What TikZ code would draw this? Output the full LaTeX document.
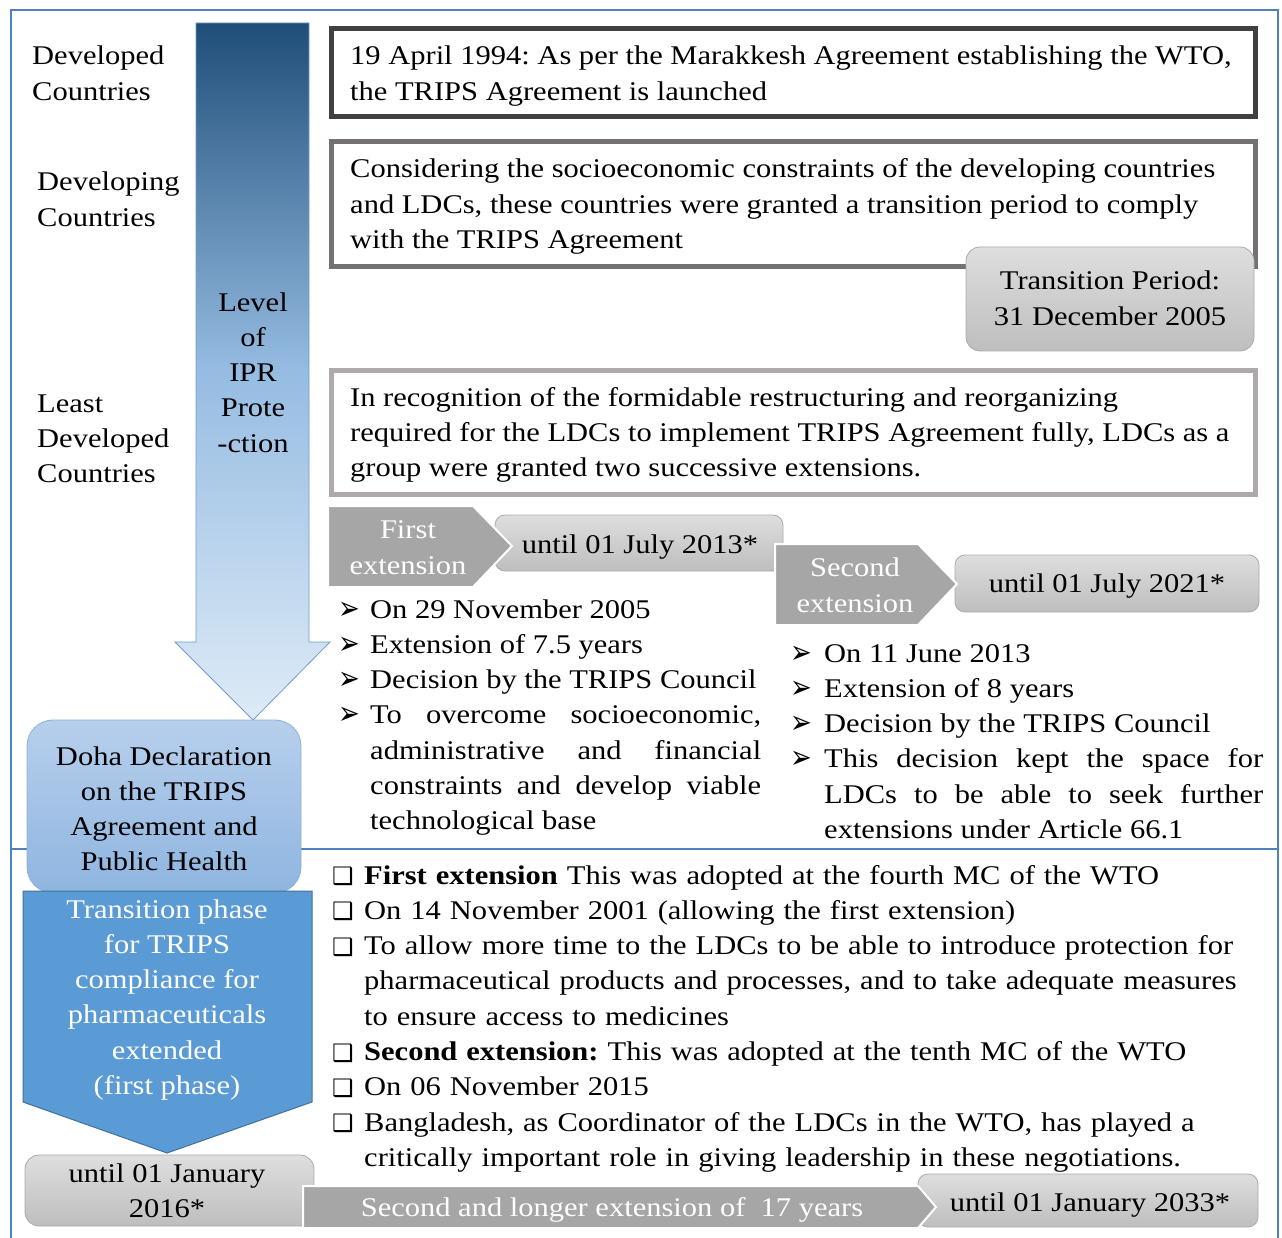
\documentclass[tikz,border=0pt]{standalone}
\usepackage{fontspec}
\setmainfont{Liberation Serif}[FakeStretch=1.13]
\newfontfamily\symfont{DejaVu Sans}
\frenchspacing

\definecolor{frameblue}{RGB}{79,129,189}
\definecolor{arrtop}{RGB}{31,78,121}
\definecolor{arrmid}{RGB}{150,188,226}
\definecolor{arrbot}{RGB}{222,235,247}
\definecolor{dohatop}{RGB}{183,207,236}
\definecolor{dohabot}{RGB}{143,181,224}
\definecolor{dohaline}{RGB}{140,176,218}
\definecolor{phasefill}{RGB}{91,155,213}
\definecolor{phaseline}{RGB}{65,113,156}
\definecolor{chevgray}{RGB}{166,166,166}
\definecolor{boxtop}{RGB}{222,222,222}
\definecolor{boxbot}{RGB}{190,190,190}
\definecolor{boxline}{RGB}{170,170,170}
\definecolor{edgeA}{RGB}{64,64,64}
\definecolor{edgeB}{RGB}{118,113,113}
\definecolor{edgeC}{RGB}{174,170,170}

% protection level shading: dark at the top, light at the bottom
\pgfdeclareverticalshading{levelshade}{100bp}{color(0bp)=(arrbot); color(25bp)=(arrbot);
  color(50bp)=(arrmid); color(75bp)=(arrtop); color(100bp)=(arrtop)}

\newcommand{\bigfont}{\fontsize{27}{35.3}\selectfont}
\newlength{\bulw}
\newcommand{\arrbul}{\makebox[\bulw][l]{\raisebox{-1pt}{\scalebox{1}[1.25]{\symfont\fontsize{26}{26}\selectfont ➢}}}}
\newcommand{\sqbul}{\makebox[\bulw][l]{\raisebox{-0.5pt}{\symfont\fontsize{24}{24}\selectfont ❑}}}
\newcommand{\aitem}[1]{\hangindent=\bulw\hangafter=1\noindent\arrbul #1\par}
\newcommand{\qitem}[1]{\hangindent=\bulw\hangafter=1\noindent\sqbul #1\par}

\tikzset{
  lbl/.style={inner sep=0pt, font=\bigfont, align=left, anchor=base west},
  ctext/.style={inner sep=0pt, font=\bigfont, align=center, anchor=base},
  wtext/.style={ctext, text=white},
  listtext/.style={inner sep=0pt, font=\bigfont, text width=#1, anchor=base west},
  graybox/.style={draw=boxline, line width=0.8pt, top color=boxtop, bottom color=boxbot, rounded corners=14pt},
  chevron/.style={fill=chevgray, draw=white, line width=2pt},
  edgebox/.style={draw=#1, line width=5pt, fill=white}
}

\begin{document}
\begin{tikzpicture}[x=1pt, y=-1pt]
\useasboundingbox (0,0) rectangle (1282,1238);

% frames
\draw[frameblue, line width=1.6pt] (11,10) rectangle (1278,849);
\draw[frameblue, line width=1.6pt] (11,849) -- (11,1245) (1278,849) -- (1278,1245);

% level of protection arrow
\shade[shading=levelshade, draw=frameblue!80, line width=0.8pt]
  (196,23) -- (309,23) -- (309,642) -- (330,642) -- (253,720) -- (175,642) -- (196,642) -- cycle;
\node[ctext] (level) at (253,452.2) {Level\\of\\IPR\\Prote\\-ction};

% country groups (base = last line)
\node[lbl] (developed) at (32,100.3) {Developed\\Countries};
\node[lbl] (developing) at (37,226.3) {Developing\\Countries};
\node[lbl] (least) at (37,482.6) {Least\\Developed\\Countries};

% left column
\path[graybox] (25,1155) rectangle (314,1226);
\node[ctext] (until2016) at (167,1217.3) {until 01 January\\2016*};
\path[draw=dohaline, line width=0.8pt, top color=dohatop, bottom color=dohabot, rounded corners=26pt]
  (27,720) rectangle (301,893);
\node[ctext] (doha) at (164,870.9) {Doha Declaration\\on the TRIPS\\Agreement and\\Public Health};
\filldraw[fill=phasefill, draw=phaseline, line width=1pt]
  (23,891) -- (312,891) -- (312,1102) -- (167,1153) -- (23,1102) -- cycle;
\node[wtext] (phase) at (167,1094.5) {Transition phase\\for TRIPS\\compliance for\\pharmaceuticals\\extended\\(first phase)};

% milestone boxes
\draw[edgebox=edgeA] (331,29) rectangle (1255,117);
\node[lbl] (marrakesh) at (350,100.3) {19 April 1994: As per the Marakkesh Agreement establishing the WTO,\\the TRIPS Agreement is launched};
\draw[edgebox=edgeB] (331,142) rectangle (1255,267);
\node[lbl] (constraints) at (350,248.6) {Considering the socioeconomic constraints of the developing countries\\and LDCs, these countries were granted a transition period to comply\\with the TRIPS Agreement};
\path[graybox] (966,247) rectangle (1254,351);
\node[ctext] (period) at (1110,325.3) {Transition Period:\\31 December 2005};
\draw[edgebox=edgeC] (331,371) rectangle (1255,494);
\node[lbl] (recognition) at (350,476.6) {In recognition of the formidable restructuring and reorganizing\\required for the LDCs to implement TRIPS Agreement fully, LDCs as a\\group were granted two successive extensions.};

% first and second extension
\path[graybox, rounded corners=10pt] (495,515) rectangle (783,571);
\node[ctext] (until2013) at (640,553) {until 01 July 2013*};
\draw[chevron] (328,506) -- (473,506) -- (512,546) -- (473,587) -- (328,587) -- cycle;
\node[wtext] (first) at (408,574) {First\\extension};
\path[graybox, rounded corners=10pt] (955,555) rectangle (1259,612);
\node[ctext] (until2021) at (1107,592) {until 01 July 2021*};
\draw[chevron] (775,544) -- (918,544) -- (957,584) -- (918,625) -- (775,625) -- cycle;
\node[wtext] (second) at (855,612) {Second\\extension};

\node[listtext=423pt, align=justify] (firstlist) at (338,618) {\setlength{\bulw}{32pt}%
\aitem{On 29 November 2005}
\aitem{Extension of 7.5 years}
\aitem{Decision by the TRIPS Council}
\aitem{To overcome socioeconomic,\linebreak administrative and financial\linebreak constraints and develop viable\linebreak technological base}};
\node[listtext=473pt, align=justify] (secondlist) at (790,662) {\setlength{\bulw}{34pt}%
\aitem{On 11 June 2013}
\aitem{Extension of 8 years}
\aitem{Decision by the TRIPS Council}
\aitem{This decision kept the space for\linebreak LDCs to be able to seek further\linebreak extensions under Article 66.1}};

% bottom part
\node[listtext=940pt, align=left] (doharules) at (332,884) {\setlength{\bulw}{32pt}%
\qitem{\textbf{First extension} This was adopted at the fourth MC of the WTO}
\qitem{On 14 November 2001 (allowing the first extension)}
\qitem{To allow more time to the LDCs to be able to introduce protection for\hfil\break pharmaceutical products and processes, and to take adequate measures\hfil\break to ensure access to medicines}
\qitem{\textbf{Second extension:} This was adopted at the tenth MC of the WTO}
\qitem{On 06 November 2015}
\qitem{Bangladesh, as Coordinator of the LDCs in the WTO, has played a\hfil\break critically important role in giving leadership in these negotiations.}};

\path[graybox, rounded corners=10pt] (918,1174) rectangle (1258,1227);
\node[ctext] (until2033) at (1090,1211) {until 01 January 2033*};
\draw[chevron] (303,1186) -- (918,1186) -- (936,1207) -- (918,1228) -- (303,1228) -- cycle;
\node[wtext] (longer) at (612,1216) {Second and longer extension of~ 17 years};
\end{tikzpicture}
\end{document}
